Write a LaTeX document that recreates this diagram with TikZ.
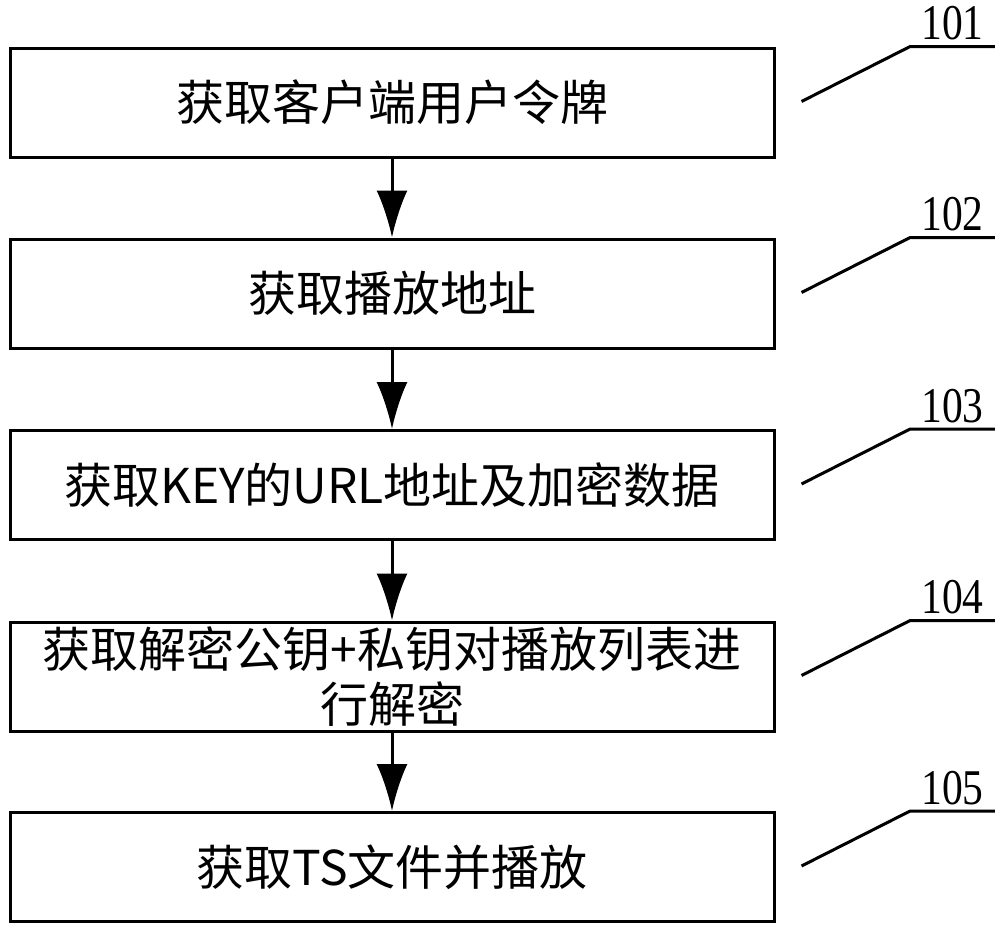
\documentclass[tikz,border=0pt]{standalone}
\usepackage{fontspec}
\setmainfont{Liberation Serif}
\newfontfamily\cjk{Noto Sans CJK SC}
\newfontfamily\numfont[FakeStretch=0.83]{Liberation Serif}
\usetikzlibrary{arrows.meta, calc}

\begin{document}
\begin{tikzpicture}[x=0.5pt, y=-0.5pt,
	box/.style={draw, line width=1.5pt, minimum width=382pt, minimum height=54.5pt, inner sep=0pt, align=center, font=\cjk\fontsize{24}{27.5}\selectfont},
	num/.style={anchor=south, minimum width=42pt, inner xsep=0pt, inner ysep=3pt, font=\numfont\fontsize{25}{25}\selectfont},
	flow/.style={line width=1.5pt, -{Latex[length=23.5pt, width=15.5pt]}},
	lead/.style={line width=1.5pt}]
	\useasboundingbox (0,0) rectangle (1000,927);
	\node [box] (A) at (392,102.5) {获取客户端用户令牌};
	\node [box] (B) at (392,293.5) {获取播放地址};
	\node [box] (C) at (392,485) {获取KEY的URL地址及加密数据};
	\node [box] (D) at (392,676.5) {获取解密公钥+私钥对播放列表进\\行解密};
	\node [box] (E) at (392,867) {获取TS文件并播放};
	\draw [flow] (A) -- (B);
	\draw [flow] (B) -- (C);
	\draw [flow] (C) -- (D);
	\draw [flow] (D) -- (E);
	\node [num] (N1) at ($(A.north east)+(177,0)$) {101};
	\node [num] (N2) at ($(B.north east)+(177,0)$) {102};
	\node [num] (N3) at ($(C.north east)+(177,0)$) {103};
	\node [num] (N4) at ($(D.north east)+(177,0)$) {104};
	\node [num] (N5) at ($(E.north east)+(177,0)$) {105};
	\draw [lead] ($(A.north east)+(26,55)$) -- (N1.south west) -- (N1.south east);
	\draw [lead] ($(B.north east)+(26,55)$) -- (N2.south west) -- (N2.south east);
	\draw [lead] ($(C.north east)+(26,55)$) -- (N3.south west) -- (N3.south east);
	\draw [lead] ($(D.north east)+(26,55)$) -- (N4.south west) -- (N4.south east);
	\draw [lead] ($(E.north east)+(26,55)$) -- (N5.south west) -- (N5.south east);
\end{tikzpicture}
\end{document}
